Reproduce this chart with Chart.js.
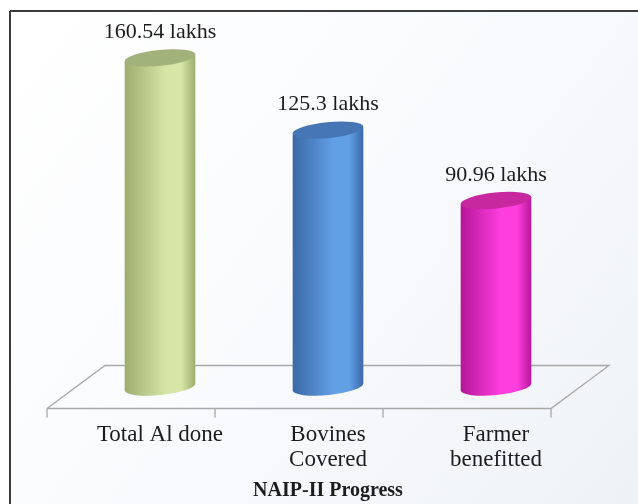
<!DOCTYPE html>
<html>
<head>
<meta charset="utf-8">
<title>NAIP-II Progress</title>
<script src="https://cdn.jsdelivr.net/npm/chart.js@4/dist/chart.umd.min.js"></script>
<style>
  html, body { margin: 0; padding: 0; background: #ffffff; }
  #wrap { width: 638px; height: 504px; }
</style>
</head>
<body>
<div id="wrap"><canvas id="chart" width="638" height="504"></canvas></div>
<script>
// Categories (multi-line axis labels) and their values, in lakhs
const categories = [['Total Al done'], ['Bovines', 'Covered'], ['Farmer', 'benefitted']];
const values = [160.54, 125.3, 90.96];
const valueUnit = 'lakhs';
const chartTitle = 'NAIP-II Progress';

// Cylinder shading: [edge, highlight, cap]
const cylinderPalette = [
  ['#9cad6d', '#d5e6a7', '#a2b27b'],
  ['#3a68a7', '#62a0e6', '#4676b6'],
  ['#b5169a', '#ff3ede', '#c8289f']
];

const SERIF = '"Liberation Serif", "DejaVu Serif", serif';
const FLOOR_DX = 58, FLOOR_DY = 43;   // depth of the 3D floor
const CAP_RY = 8, CAP_TILT = -0.1;    // ellipse shape of the cylinder ends

// Frame and soft background
const backdrop = {
  id: 'backdrop',
  beforeDraw(chart) {
    const ctx = chart.ctx;
    const W = chart.width, H = chart.height;
    ctx.save();
    ctx.fillStyle = '#ffffff';
    ctx.fillRect(0, 0, W, H);
    const g = ctx.createLinearGradient(10, 11, W, H);
    g.addColorStop(0, '#ffffff');
    g.addColorStop(0.45, '#fafbfd');
    g.addColorStop(1, '#eef2f7');
    ctx.fillStyle = g;
    ctx.fillRect(10, 11, W - 10, H - 11);
    ctx.strokeStyle = '#3c3c3c';
    ctx.lineWidth = 2;
    ctx.beginPath();
    ctx.moveTo(10, 11); ctx.lineTo(W, 11);
    ctx.moveTo(10, 11); ctx.lineTo(10, H);
    ctx.stroke();
    ctx.restore();
  }
};

// Perspective floor under the cylinders, following the x scale
const floor = {
  id: 'floor',
  beforeDatasetsDraw(chart) {
    const ctx = chart.ctx;
    const xs = chart.scales.x, ys = chart.scales.y;
    const base = ys.getPixelForValue(0);
    const step = xs.getPixelForValue(1) - xs.getPixelForValue(0);
    const left = xs.getPixelForValue(0) - step / 2;
    const right = xs.getPixelForValue(categories.length - 1) + step / 2;
    const fy = base + FLOOR_DY / 2, by = base - FLOOR_DY / 2;
    const fl = left - FLOOR_DX / 2, fr = right - FLOOR_DX / 2;
    const bl = left + FLOOR_DX / 2, br = right + FLOOR_DX / 2;
    ctx.save();
    ctx.strokeStyle = '#a8a8a8';
    ctx.lineWidth = 1.3;
    ctx.beginPath();
    ctx.moveTo(fl, fy); ctx.lineTo(bl, by); ctx.lineTo(br, by); ctx.lineTo(fr, fy); ctx.lineTo(fl, fy);
    for (let i = 0; i <= categories.length; i++) {
      const tx = fl + i * step;
      ctx.moveTo(tx, fy); ctx.lineTo(tx, fy + 9);
    }
    ctx.stroke();
    ctx.restore();
  }
};

function ellipsePoint(cx, cy, rx, ry, rot, t) {
  return [
    cx + rx * Math.cos(t) * Math.cos(rot) - ry * Math.sin(t) * Math.sin(rot),
    cy + rx * Math.cos(t) * Math.sin(rot) + ry * Math.sin(t) * Math.cos(rot)
  ];
}

function drawCylinder(ctx, cx, top, base, w, colors) {
  const rx = w / 2;
  const [edge, light, cap] = colors;
  const L = ellipsePoint(cx, top, rx, CAP_RY, CAP_TILT, Math.PI);
  const R = ellipsePoint(cx, top, rx, CAP_RY, CAP_TILT, 0);
  const LB = ellipsePoint(cx, base, rx, CAP_RY, CAP_TILT, Math.PI);

  const g = ctx.createLinearGradient(cx - rx, 0, cx + rx, 0);
  g.addColorStop(0, edge);
  g.addColorStop(0.58, light);
  g.addColorStop(0.8, light);
  g.addColorStop(1, edge);

  ctx.save();
  ctx.beginPath();
  ctx.moveTo(L[0], L[1]);
  ctx.lineTo(LB[0], LB[1]);
  ctx.ellipse(cx, base, rx, CAP_RY, CAP_TILT, Math.PI, 0, true);
  ctx.lineTo(R[0], R[1]);
  ctx.closePath();
  ctx.fillStyle = g;
  ctx.fill();

  ctx.beginPath();
  ctx.ellipse(cx, top, rx, CAP_RY, CAP_TILT, 0, Math.PI * 2);
  ctx.fillStyle = cap;
  ctx.fill();
  ctx.restore();
}

// Cylinders and value labels drawn from the bar elements
const cylinders = {
  id: 'cylinders',
  afterDatasetsDraw(chart) {
    const ctx = chart.ctx;
    const meta = chart.getDatasetMeta(0);
    meta.data.forEach((bar, i) => {
      const p = bar.getProps(['x', 'y', 'base', 'width'], true);
      drawCylinder(ctx, p.x, p.y, p.base, p.width, cylinderPalette[i]);
      ctx.save();
      ctx.fillStyle = '#1c1c1c';
      ctx.font = '22px ' + SERIF;
      ctx.textAlign = 'center';
      ctx.textBaseline = 'alphabetic';
      ctx.fillText(values[i] + ' ' + valueUnit, p.x, p.y - 20);
      ctx.restore();
    });
  }
};

new Chart(document.getElementById('chart'), {
  type: 'bar',
  data: {
    labels: categories,
    datasets: [{
      data: values,
      backgroundColor: 'rgba(0,0,0,0)',
      borderWidth: 0,
      barThickness: 71
    }]
  },
  options: {
    responsive: false,
    animation: false,
    devicePixelRatio: 1,
    layout: { padding: { left: 76, right: 58, top: 18, bottom: 1 } },
    plugins: {
      legend: { display: false },
      tooltip: { enabled: false },
      title: {
        display: true,
        position: 'bottom',
        text: chartTitle,
        color: '#1c1c1c',
        font: { family: SERIF, size: 20, weight: 'bold', lineHeight: 1.2 },
        padding: { top: 12, bottom: 0 }
      }
    },
    scales: {
      x: {
        grid: { display: false, drawTicks: false },
        border: { display: false },
        ticks: {
          color: '#1c1c1c',
          padding: 35,
          maxRotation: 0,
          font: { family: SERIF, size: 23, lineHeight: 1.1 }
        },
        afterFit(axis) { axis.height = 80; }
      },
      y: {
        display: false,
        min: 0,
        max: 180
      }
    }
  },
  plugins: [backdrop, floor, cylinders]
});
</script>
</body>
</html>
